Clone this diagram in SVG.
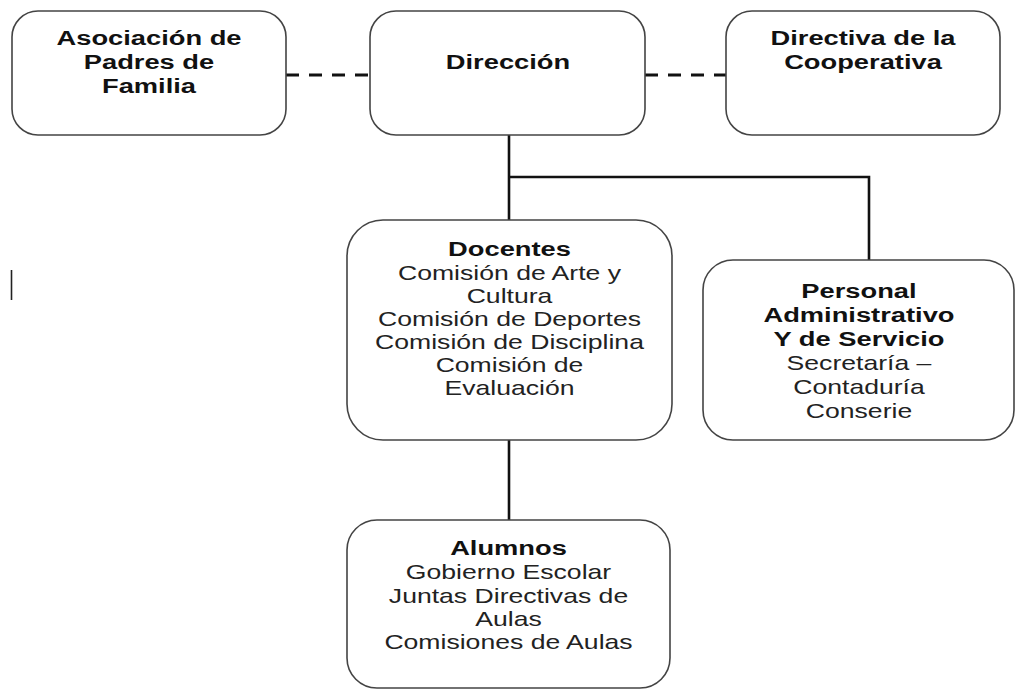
<svg xmlns="http://www.w3.org/2000/svg" width="1016" height="689" viewBox="0 0 1016 689">
<style>
.box{fill:#fff;stroke:#444;stroke-width:1.6}
.b{font-family:"Liberation Sans",Arial,sans-serif;font-weight:bold;font-size:21px;fill:#111;text-anchor:middle}
.r{font-family:"Liberation Sans",Arial,sans-serif;font-size:20px;fill:#222;text-anchor:middle}
.solid{stroke:#111;stroke-width:2.6;fill:none}
.dash{stroke:#111;stroke-width:3;fill:none;stroke-dasharray:13 10}
</style>
<rect width="1016" height="689" fill="#fff"/>
<g id="connectors">
<line class="dash" x1="286" y1="75" x2="370" y2="75"/>
<line class="dash" x1="645" y1="75" x2="726" y2="75"/>
<polyline class="solid" points="509,135 509,220"/>
<polyline class="solid" points="509,177 869,177 869,260"/>
<line class="solid" x1="509" y1="440" x2="509" y2="520"/>
</g>
<g id="asociacion">
<rect class="box" x="12" y="11" width="274" height="124" rx="26"/>
<g transform="translate(149,0) scale(1.3,1)">
<text class="b" x="0" y="45">Asociación de</text>
<text class="b" x="0" y="69">Padres de</text>
<text class="b" x="0" y="93">Familia</text>
</g>
</g>
<g id="direccion">
<rect class="box" x="370" y="11" width="275" height="124" rx="26"/>
<g transform="translate(508,0) scale(1.3,1)">
<text class="b" x="0" y="69">Dirección</text>
</g>
</g>
<g id="directiva">
<rect class="box" x="726" y="11" width="274" height="124" rx="26"/>
<g transform="translate(863,0) scale(1.3,1)">
<text class="b" x="0" y="45">Directiva de la</text>
<text class="b" x="0" y="69">Cooperativa</text>
</g>
</g>
<g id="docentes">
<rect class="box" x="347" y="220" width="325" height="220" rx="36"/>
<g transform="translate(509.5,0) scale(1.3,1)">
<text class="b" x="0" y="256">Docentes</text>
</g>
<g transform="translate(509.5,0) scale(1.33,1)">
<text class="r" x="0" y="280">Comisión de Arte y</text>
<text class="r" x="0" y="303">Cultura</text>
<text class="r" x="0" y="326">Comisión de Deportes</text>
<text class="r" x="0" y="349">Comisión de Disciplina</text>
<text class="r" x="0" y="372">Comisión de</text>
<text class="r" x="0" y="395">Evaluación</text>
</g>
</g>
<g id="personal">
<rect class="box" x="703" y="260" width="311" height="180" rx="30"/>
<g transform="translate(859,0) scale(1.3,1)">
<text class="b" x="0" y="298">Personal</text>
<text class="b" x="0" y="322">Administrativo</text>
<text class="b" x="0" y="346">Y de Servicio</text>
</g>
<g transform="translate(859,0) scale(1.33,1)">
<text class="r" x="0" y="370">Secretaría –</text>
<text class="r" x="0" y="394">Contaduría</text>
<text class="r" x="0" y="418">Conserie</text>
</g>
</g>
<g id="alumnos">
<rect class="box" x="347" y="520" width="323" height="168" rx="30"/>
<g transform="translate(508.5,0) scale(1.3,1)">
<text class="b" x="0" y="555">Alumnos</text>
</g>
<g transform="translate(508.5,0) scale(1.33,1)">
<text class="r" x="0" y="579">Gobierno Escolar</text>
<text class="r" x="0" y="603">Juntas Directivas de</text>
<text class="r" x="0" y="626">Aulas</text>
<text class="r" x="0" y="649">Comisiones de Aulas</text>
</g>
</g>
<line x1="11.5" y1="270" x2="11.5" y2="300" stroke="#222" stroke-width="1.6"/>
</svg>
